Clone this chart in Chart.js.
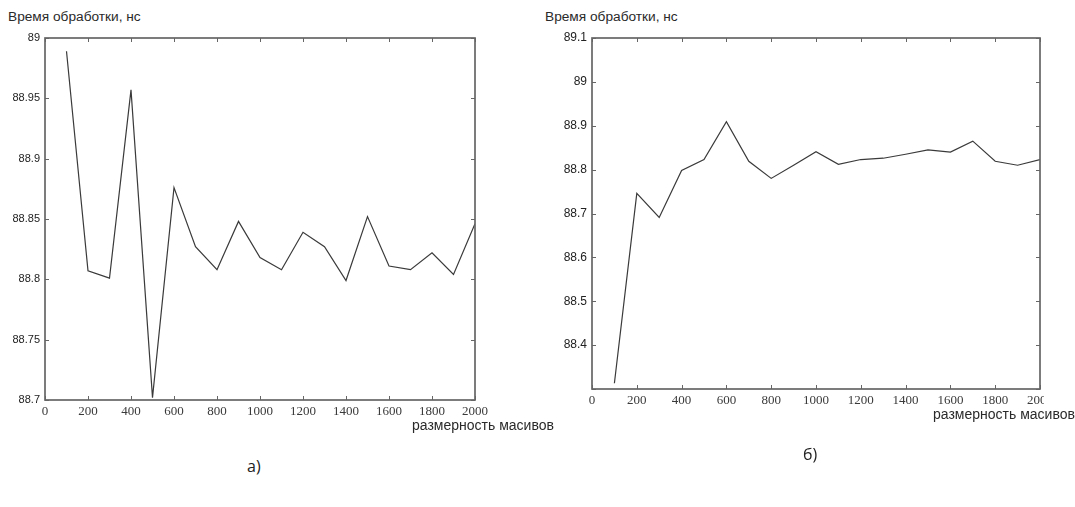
<!DOCTYPE html>
<html lang="ru">
<head>
  <meta charset="UTF-8" />
  <title>Время обработки</title>
  <script src="https://cdn.jsdelivr.net/npm/chart.js"></script>
  <style>
    body {
      margin: 0;
      width: 1075px;
      height: 507px;
      background: #fff;
      position: relative;
      overflow: hidden;
      font-family: "Liberation Sans", Arial, sans-serif;
      color: #2a2a2a;
    }
    canvas, .txt {
      position: absolute;
    }
    .txt {
      font-size: 13.7px;
      white-space: nowrap;
      line-height: 1;
    }
    .axis {
      font-size: 14px;
    }
    .cap {
      font-family: "Open Sans", "Noto Sans", sans-serif;
      font-size: 16px;
      color: #222;
    }
  </style>
</head>
<body>

  <div class="txt" style="left:8px; top:10px;">Время обработки, нс</div>
  <div class="txt" style="left:545px; top:10px;">Время обработки, нс</div>

  <canvas id="chartA" width="530" height="450" style="left:0; top:0;"></canvas>
  <canvas id="chartB" width="504" height="450" style="left:540px; top:0;"></canvas>

  <div class="txt axis" style="left:412px; top:418px;">размерность масивов</div>
  <div class="txt axis" style="left:933px; top:407px;">размерность масивов</div>

  <div class="txt cap" style="left:247px; top:458px;">а)</div>
  <div class="txt cap" style="left:803px; top:446px;">б)</div>

  <script>
    // размерность массива (ось X)
    const sizes = [100, 200, 300, 400, 500, 600, 700, 800, 900, 1000,
                   1100, 1200, 1300, 1400, 1500, 1600, 1700, 1800, 1900, 2000];

    // время обработки, нс — рисунок а)
    const timeA = [88.989, 88.807, 88.801, 88.957, 88.702, 88.876, 88.827, 88.808, 88.848, 88.818,
                   88.808, 88.839, 88.827, 88.799, 88.852, 88.811, 88.808, 88.822, 88.804, 88.846];

    // время обработки, нс — рисунок б)
    const timeB = [88.313, 88.746, 88.691, 88.798, 88.823, 88.909, 88.819, 88.780, 88.810, 88.841,
                   88.812, 88.823, 88.826, 88.835, 88.845, 88.840, 88.865, 88.819, 88.810, 88.823];

    // рамка и внутренние засечки как в MATLAB
    const framePlugin = {
      id: 'frame',
      afterDatasetsDraw(chart) {
        const ctx = chart.ctx;
        const a = chart.chartArea;
        const xs = chart.scales.x;
        const ys = chart.scales.y;
        const len = 4;

        ctx.save();
        ctx.strokeStyle = '#666';
        ctx.lineWidth = 1;
        ctx.beginPath();
        xs.ticks.forEach(t => {
          const px = Math.round(xs.getPixelForValue(t.value)) + 0.5;
          ctx.moveTo(px, a.bottom);
          ctx.lineTo(px, a.bottom - len);
          ctx.moveTo(px, a.top);
          ctx.lineTo(px, a.top + len);
        });
        ys.ticks.forEach(t => {
          const py = Math.round(ys.getPixelForValue(t.value)) + 0.5;
          ctx.moveTo(a.left, py);
          ctx.lineTo(a.left + len, py);
          ctx.moveTo(a.right, py);
          ctx.lineTo(a.right - len, py);
        });
        ctx.stroke();

        ctx.lineWidth = 1.7;
        ctx.strokeRect(a.left, a.top, a.right - a.left, a.bottom - a.top);
        ctx.restore();
      }
    };

    function createChart(id, values, yMin, yMax, yStep, yFontSize, yWidth, padding, yLabel) {
      const ctx = document.getElementById(id).getContext('2d');
      return new Chart(ctx, {
        type: 'line',
        data: {
          datasets: [{
            data: sizes.map((s, i) => ({ x: s, y: values[i] })),
            borderColor: '#3a3a3a',
            borderWidth: 1.2,
            pointRadius: 0,
            tension: 0,
            fill: false
          }]
        },
        options: {
          responsive: false,
          animation: false,
          layout: { padding: padding },
          plugins: {
            legend: { display: false },
            tooltip: { enabled: false }
          },
          scales: {
            x: {
              type: 'linear',
              min: 0,
              max: 2000,
              grid: { display: false, drawTicks: false },
              border: { display: false },
              ticks: {
                stepSize: 200,
                autoSkip: false,
                maxRotation: 0,
                padding: 4,
                color: '#3a3a3a',
                font: { family: '"Liberation Serif", "DejaVu Serif", serif', size: 13 },
                callback: v => String(v)
              },
              afterFit: scale => {
                scale.height = 20;
                scale.paddingLeft = 0;
                scale.paddingRight = 0;
              }
            },
            y: {
              min: yMin,
              max: yMax,
              grid: { display: false, drawTicks: false },
              border: { display: false },
              ticks: {
                stepSize: yStep,
                padding: 5,
                color: '#222',
                font: { family: '"Liberation Sans", Arial, sans-serif', size: yFontSize },
                callback: yLabel
              },
              afterFit: scale => {
                scale.width = yWidth;
                scale.paddingTop = 0;
                scale.paddingBottom = 0;
              }
            }
          }
        },
        plugins: [framePlugin]
      });
    }

    createChart('chartA', timeA, 88.7, 89.0, 0.05, 11, 45,
      { left: 0, top: 38, right: 55, bottom: 30 },
      v => String(+v.toFixed(2)));

    createChart('chartB', timeB, 88.3, 89.1, 0.1, 12, 52,
      { left: 0, top: 38, right: 4, bottom: 41 },
      v => (v < 88.35 ? '' : String(+v.toFixed(1))));
  </script>

</body>
</html>
